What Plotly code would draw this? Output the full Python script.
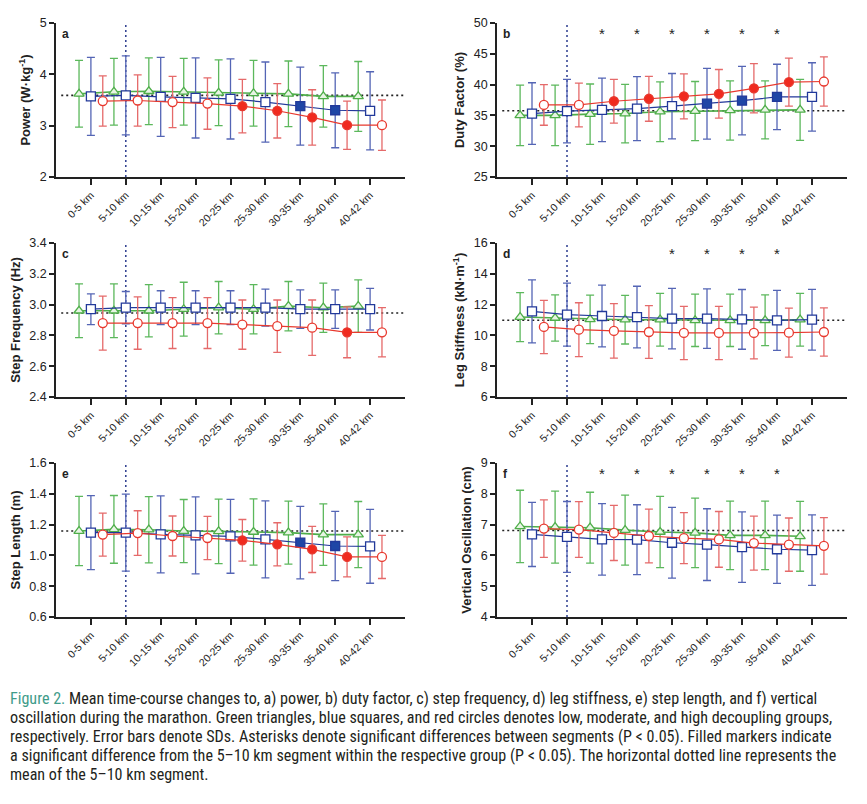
import plotly.graph_objects as go

# The page body has an 8px default margin, so the figure is sized and
# positioned to compensate for it.
PAGE_PAD = 8
W, H = 867 - PAGE_PAD, 804 - PAGE_PAD

# ---------------- data ----------------
segments = ["0-5 km", "5-10 km", "10-15 km", "15-20 km", "20-25 km",
            "25-30 km", "30-35 km", "35-40 km", "40-42 km"]

# a) Power (W/kg)
power_green_mean = [3.62, 3.66, 3.67, 3.66, 3.64, 3.63, 3.62, 3.57, 3.57]
power_green_sd = [0.65, 0.65, 0.65, 0.65, 0.64, 0.64, 0.64, 0.60, 0.68]
power_blue_mean = [3.57, 3.59, 3.56, 3.54, 3.52, 3.46, 3.38, 3.30, 3.29]
power_blue_sd = [0.76, 0.77, 0.77, 0.78, 0.78, 0.78, 0.76, 0.73, 0.76]
power_red_mean = [3.48, 3.49, 3.46, 3.43, 3.38, 3.29, 3.16, 3.01, 3.01]
power_red_sd = [0.49, 0.50, 0.50, 0.50, 0.52, 0.53, 0.54, 0.47, 0.49]
power_filled_green = []
power_filled_blue = [6, 7]
power_filled_red = [4, 5, 6, 7]
power_asterisks = []
power_ref = 3.59

# b) Duty factor (%)
duty_green_mean = [35.0, 35.0, 35.2, 35.3, 35.6, 35.7, 35.8, 35.9, 35.9]
duty_green_sd = [4.90, 4.90, 4.90, 4.75, 4.85, 4.80, 4.80, 4.70, 4.95]
duty_blue_mean = [35.3, 35.7, 35.9, 36.1, 36.5, 36.9, 37.4, 38.0, 38.0]
duty_blue_sd = [5.00, 5.15, 5.15, 5.20, 5.30, 5.75, 5.55, 5.30, 5.55]
duty_red_mean = [36.7, 36.7, 37.3, 37.7, 38.1, 38.5, 39.4, 40.4, 40.5]
duty_red_sd = [3.30, 3.55, 3.55, 3.65, 3.65, 3.95, 4.00, 3.90, 4.00]
duty_filled_green = []
duty_filled_blue = [5, 6, 7]
duty_filled_red = [2, 3, 4, 5, 6, 7]
duty_asterisks = [2, 3, 4, 5, 6, 7]
duty_ref = 35.75

# c) Step frequency (Hz)
freq_green_mean = [2.96, 2.96, 2.96, 2.97, 2.98, 2.97, 2.99, 2.98, 2.99]
freq_green_sd = [0.175, 0.175, 0.17, 0.175, 0.17, 0.16, 0.16, 0.16, 0.17]
freq_blue_mean = [2.97, 2.98, 2.98, 2.98, 2.98, 2.98, 2.97, 2.97, 2.97]
freq_blue_sd = [0.10, 0.105, 0.11, 0.11, 0.11, 0.12, 0.125, 0.125, 0.135]
freq_red_mean = [2.88, 2.88, 2.88, 2.88, 2.87, 2.86, 2.85, 2.82, 2.82]
freq_red_sd = [0.175, 0.17, 0.165, 0.165, 0.16, 0.17, 0.18, 0.165, 0.16]
freq_filled_green = []
freq_filled_blue = []
freq_filled_red = [7]
freq_asterisks = []
freq_ref = 2.945

# d) Leg stiffness (kN/m)
stiff_green_mean = [11.19, 11.13, 11.04, 11.02, 11.02, 10.98, 10.98, 10.98, 11.02]
stiff_green_sd = [1.59, 1.50, 1.57, 1.58, 1.71, 1.70, 1.70, 1.65, 1.71]
stiff_blue_mean = [11.56, 11.35, 11.26, 11.19, 11.09, 11.09, 11.04, 10.98, 11.02]
stiff_blue_sd = [2.05, 2.04, 2.00, 2.00, 1.97, 1.93, 1.94, 1.95, 1.97]
stiff_red_mean = [10.55, 10.37, 10.29, 10.22, 10.16, 10.16, 10.16, 10.18, 10.22]
stiff_red_sd = [1.73, 1.75, 1.77, 1.71, 1.73, 1.73, 1.68, 1.59, 1.57]
stiff_filled_green = []
stiff_filled_blue = []
stiff_filled_red = []
stiff_asterisks = [4, 5, 6, 7]
stiff_ref = 10.98

# e) Step length (m)
length_green_mean = [1.158, 1.169, 1.167, 1.158, 1.156, 1.152, 1.148, 1.135, 1.135]
length_green_sd = [0.225, 0.22, 0.215, 0.205, 0.21, 0.215, 0.205, 0.20, 0.215]
length_blue_mean = [1.148, 1.148, 1.137, 1.130, 1.124, 1.104, 1.083, 1.061, 1.059]
length_blue_sd = [0.24, 0.25, 0.25, 0.25, 0.24, 0.25, 0.235, 0.225, 0.24]
length_red_mean = [1.135, 1.145, 1.126, 1.113, 1.098, 1.072, 1.039, 0.990, 0.990]
length_red_sd = [0.14, 0.145, 0.13, 0.14, 0.135, 0.14, 0.15, 0.13, 0.14]
length_filled_green = []
length_filled_blue = [6, 7]
length_filled_red = [4, 5, 6, 7]
length_asterisks = []
length_ref = 1.158

# f) Vertical oscillation (cm)
osc_green_mean = [6.94, 6.92, 6.90, 6.82, 6.76, 6.73, 6.65, 6.65, 6.62]
osc_green_sd = [1.175, 1.17, 1.15, 1.135, 1.155, 1.13, 1.115, 1.115, 1.135]
osc_blue_mean = [6.68, 6.60, 6.52, 6.51, 6.41, 6.35, 6.27, 6.20, 6.17]
osc_blue_sd = [1.04, 1.15, 1.16, 1.135, 1.15, 1.165, 1.145, 1.11, 1.145]
osc_red_mean = [6.87, 6.84, 6.73, 6.63, 6.56, 6.52, 6.40, 6.35, 6.31]
osc_red_sd = [0.935, 0.905, 0.895, 0.875, 0.83, 0.905, 0.875, 0.865, 0.915]
osc_filled_green = []
osc_filled_blue = []
osc_filled_red = []
osc_asterisks = [2, 3, 4, 5, 6, 7]
osc_ref = 6.81

caption_lines = [
    "Mean time-course changes to, a) power, b) duty factor, c) step frequency, d) leg stiffness, e) step length, and f) vertical",
    "oscillation during the marathon. Green triangles, blue squares, and red circles denotes low, moderate, and high decoupling groups,",
    "respectively. Error bars denote SDs. Asterisks denote significant differences between segments (P < 0.05). Filled markers indicate",
    "a significant difference from the 5\u201310 km segment within the respective group (P < 0.05). The horizontal dotted line represents the",
    "mean of the 5\u201310 km segment.",
]

# ---------------- styling ----------------
FONT = "Liberation Sans, Arial, Helvetica, sans-serif"
CAP_FONT = "Liberation Sans Narrow, Arial Narrow, Roboto Condensed, sans-serif"

groups = {
    "green": dict(offset=-0.34, symbol="triangle-up", size=9, line="#4fae4a",
                  edge="#4fae4a", fill="#4fae4a", open="#e8f5e4", err="#5cb85c", lw=1.6),
    "blue": dict(offset=0.0, symbol="square", size=9, line="#22399a",
                 edge="#22399a", fill="#1f46a6", open="#ffffff", err="#5465b5", lw=1.2),
    "red": dict(offset=0.34, symbol="circle", size=9, line="#e8392e",
                edge="#e8392e", fill="#f02a1f", open="#ffffff", err="#e56a6a", lw=1.2),
}

panels = [
    dict(letter="a", title="<b>Power (W\u00b7kg<sup>-1</sup>)</b>", rng=[2, 5], dtick=1, fmt="d",
         data={"green": (power_green_mean, power_green_sd, power_filled_green),
               "blue": (power_blue_mean, power_blue_sd, power_filled_blue),
               "red": (power_red_mean, power_red_sd, power_filled_red)},
         ast=power_asterisks, ref=power_ref),
    dict(letter="b", title="<b>Duty Factor (%)</b>", rng=[25, 50], dtick=5, fmt="d",
         data={"green": (duty_green_mean, duty_green_sd, duty_filled_green),
               "blue": (duty_blue_mean, duty_blue_sd, duty_filled_blue),
               "red": (duty_red_mean, duty_red_sd, duty_filled_red)},
         ast=duty_asterisks, ref=duty_ref),
    dict(letter="c", title="<b>Step Frequency (Hz)</b>", rng=[2.4, 3.4], dtick=0.2, fmt=".1f",
         data={"green": (freq_green_mean, freq_green_sd, freq_filled_green),
               "blue": (freq_blue_mean, freq_blue_sd, freq_filled_blue),
               "red": (freq_red_mean, freq_red_sd, freq_filled_red)},
         ast=freq_asterisks, ref=freq_ref),
    dict(letter="d", title="<b>Leg Stiffness (kN\u00b7m<sup>-1</sup>)</b>", rng=[6, 16], dtick=2, fmt="d",
         data={"green": (stiff_green_mean, stiff_green_sd, stiff_filled_green),
               "blue": (stiff_blue_mean, stiff_blue_sd, stiff_filled_blue),
               "red": (stiff_red_mean, stiff_red_sd, stiff_filled_red)},
         ast=stiff_asterisks, ref=stiff_ref),
    dict(letter="e", title="<b>Step Length (m)</b>", rng=[0.6, 1.6], dtick=0.2, fmt=".1f",
         data={"green": (length_green_mean, length_green_sd, length_filled_green),
               "blue": (length_blue_mean, length_blue_sd, length_filled_blue),
               "red": (length_red_mean, length_red_sd, length_filled_red)},
         ast=length_asterisks, ref=length_ref),
    dict(letter="f", title="<b>Vertical Oscillation (cm)</b>", rng=[4, 9], dtick=1, fmt="d",
         data={"green": (osc_green_mean, osc_green_sd, osc_filled_green),
               "blue": (osc_blue_mean, osc_blue_sd, osc_filled_blue),
               "red": (osc_red_mean, osc_red_sd, osc_filled_red)},
         ast=osc_asterisks, ref=osc_ref),
]

# pixel layout of plot areas (window coordinates, then shifted by the page pad)
col_px = [(56, 405), (497, 847)]
row_px = [(23, 177), (243, 397), (463, 617)]

fig = go.Figure()
layout = dict(width=W, height=H, margin=dict(l=0, r=0, t=0, b=0, pad=0),
              paper_bgcolor="white", plot_bgcolor="white", showlegend=False,
              font=dict(family=FONT, color="#222"))
shapes, annotations = [], []

idx = list(range(len(segments)))
for p, panel in enumerate(panels):
    r, c = divmod(p, 2)
    n = p + 1
    xs = "" if n == 1 else str(n)
    xa, ya = "x" + xs, "y" + xs
    x0p, x1p = [v - PAGE_PAD for v in col_px[c]]
    y0p, y1p = [v - PAGE_PAD for v in row_px[r]]
    layout["xaxis" + xs] = dict(
        domain=[x0p / W, x1p / W], anchor=ya, range=[-1, 9],
        tickmode="array", tickvals=idx, ticktext=segments, tickangle=-45,
        ticks="outside", ticklen=6, tickwidth=1.5, tickcolor="#222",
        showline=True, linecolor="#222", linewidth=1.8, showgrid=False, zeroline=False,
        tickfont=dict(size=10.5, family=FONT, color="#222"), automargin=False)
    layout["yaxis" + xs] = dict(
        domain=[1 - y1p / H, 1 - y0p / H], anchor=xa, range=panel["rng"],
        dtick=panel["dtick"], tick0=panel["rng"][0], tickformat=panel["fmt"],
        ticks="outside", ticklen=5, tickwidth=1.5, tickcolor="#222",
        showline=True, linecolor="#222", linewidth=1.8, showgrid=False, zeroline=False,
        tickfont=dict(size=12.5, family=FONT, color="#222"), automargin=False,
        title=dict(text=panel["title"], font=dict(size=13, family=FONT, color="#222"),
                   standoff=6))

    # reference lines
    shapes.append(dict(type="line", xref=xa, yref=ya + " domain", x0=1, x1=1, y0=0, y1=1,
                       line=dict(color="#2c3d8f", width=1.5, dash="2px,3px"), layer="below"))
    shapes.append(dict(type="line", xref=xa + " domain", yref=ya, x0=0.015, x1=1,
                       y0=panel["ref"], y1=panel["ref"],
                       line=dict(color="#222", width=1.6, dash="2px,3px"), layer="below"))

    for g in ["green", "blue", "red"]:
        st = groups[g]
        mean, sd, filled = panel["data"][g]
        xv = [i + st["offset"] for i in idx]
        fills = [st["fill"] if i in filled else st["open"] for i in idx]
        fig.add_trace(go.Scatter(
            x=xv, y=mean, xaxis=xa, yaxis=ya, mode="lines+markers",
            line=dict(color=st["line"], width=st["lw"]),
            marker=dict(symbol=st["symbol"], size=st["size"], color=fills,
                        line=dict(color=st["edge"], width=1.3)),
            error_y=dict(type="data", array=sd, visible=True, color=st["err"],
                         thickness=1.3, width=4),
            hoverinfo="skip"))

    # asterisks
    for i in panel["ast"]:
        annotations.append(dict(text="*", x=i, xref=xa, y=0.93, yref=ya + " domain",
                                showarrow=False, font=dict(size=15, family=FONT, color="#222"),
                                xanchor="center", yanchor="middle"))
    # panel letter
    annotations.append(dict(text="<b>%s</b>" % panel["letter"], x=0.012, xref=xa + " domain",
                            y=0.93, yref=ya + " domain", showarrow=False,
                            xanchor="left", yanchor="middle",
                            font=dict(size=12, family=FONT, color="#222")))

# caption
cap_y = [698, 717, 736, 755, 774]
for k, line in enumerate(caption_lines):
    txt = line
    if k == 0:
        txt = "<span style='color:#3f9c8a'>Figure 2.</span> " + line
    annotations.append(dict(text=txt, x=0, xref="paper", y=1 - (cap_y[k] - PAGE_PAD) / H,
                            yref="paper", showarrow=False, xanchor="left", yanchor="middle",
                            align="left",
                            font=dict(size=16.1, family=CAP_FONT, color="#231f20")))

layout["shapes"] = shapes
layout["annotations"] = annotations
fig.update_layout(**layout)
fig.write_html("out.html")
